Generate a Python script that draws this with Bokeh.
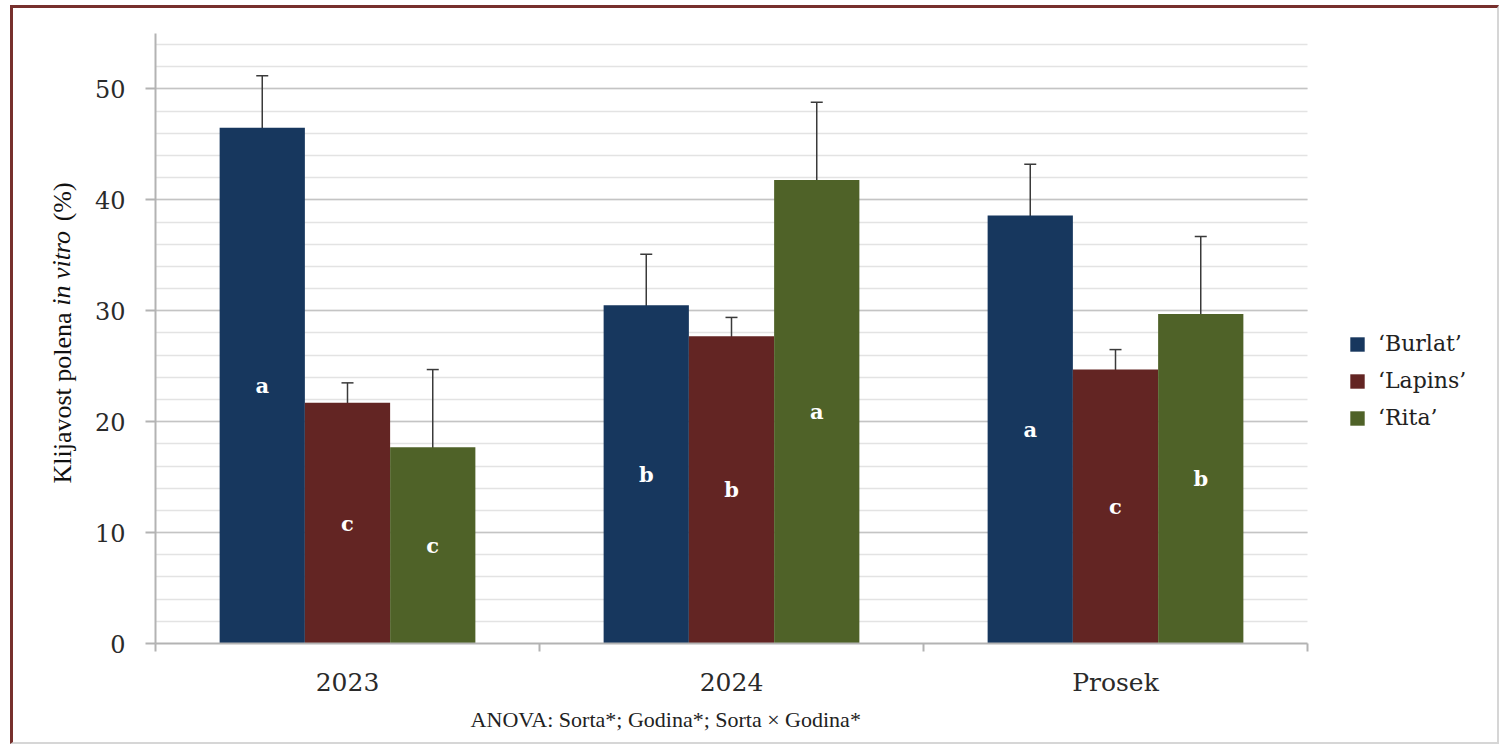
import numpy as np
from math import pi

from bokeh.plotting import figure
from bokeh.models import (ColumnDataSource, FixedTicker, SingleIntervalTicker, Range1d,
                          Whisker, TeeHead, Legend, LegendItem, Label)
from bokeh.core.properties import value
from bokeh.embed import file_html
from bokeh.resources import INLINE

# ---- data -------------------------------------------------------------
categories = ["2023", "2024", "Prosek"]
cultivars = ["‘Burlat’", "‘Lapins’", "‘Rita’"]

burlat = [46.5, 30.5, 38.6]
burlat_sd = [4.7, 4.6, 4.6]
lapins = [21.7, 27.7, 24.7]
lapins_sd = [1.8, 1.7, 1.8]
rita = [17.7, 41.8, 29.7]
rita_sd = [7.0, 7.0, 7.0]

burlat_letters = ["a", "b", "a"]
lapins_letters = ["c", "b", "c"]
rita_letters = ["c", "a", "b"]

y_ticks = [0, 10, 20, 30, 40, 50]
colors = ["#17375e", "#632523", "#4f6228"]
note = "ANOVA: Sorta*;  Godina*; Sorta × Godina*"

# ---- figure -----------------------------------------------------------
# The frame runs on to the right edge so the legend can sit inside it;
# the axis line and grid lines stop at the last category.
W, H = 1489, 739
left_px, cat_px = 142, 384
x_end = (W - left_px) / cat_px
p = figure(width=W, height=H, x_range=Range1d(0, x_end), y_range=Range1d(0, 55),
           output_backend="svg", toolbar_location=None,
           min_border_left=left_px, min_border_right=0, min_border_top=25, min_border_bottom=104)
p.outline_line_color = None
p.background_fill_color = "white"
p.border_fill_color = "white"
p.styles = {"margin-left": "10px", "margin-top": "5px",
            "border-top": "3px solid #77302d", "border-left": "3px solid #77302d",
            "border-right": "2px solid #d6d6d6", "border-bottom": "2px solid #d6d6d6"}

series = [(burlat, burlat_sd, burlat_letters),
          (lapins, lapins_sd, lapins_letters),
          (rita, rita_sd, rita_letters)]
offsets = [-0.222, 0.0, 0.222]
bar_w = 0.222
centers = np.arange(len(categories)) + 0.5
n_cat = len(categories)

items = []
for k, (vals, sd, letters) in enumerate(series):
    vals = np.array(vals)
    sd = np.array(sd)
    src = ColumnDataSource(dict(
        x=centers + offsets[k], top=vals, upper=vals + sd, lower=vals - sd,
        mid=vals / 2, letter=letters))
    r = p.vbar(x="x", top="top", width=bar_w, source=src,
               fill_color=colors[k], line_color=None)
    items.append(LegendItem(label=cultivars[k], renderers=[r]))
    p.add_layout(Whisker(source=src, base="x", upper="upper", lower="lower",
                         line_color="#3a3a3a", line_width=1.5,
                         upper_head=TeeHead(size=12, line_color="#3a3a3a", line_width=1.5),
                         lower_head=TeeHead(size=12, line_color="#3a3a3a", line_width=1.5)))
    p.text(x="x", y="mid", text="letter", source=src, text_color="white",
           text_font=value("DejaVu Serif"), text_font_style="bold",
           text_font_size="21px", text_align="center", text_baseline="middle")

# ---- axes & grid ------------------------------------------------------
axis_grey = "#b3b3b3"
p.yaxis.ticker = SingleIntervalTicker(interval=10, num_minor_ticks=5)
p.yaxis.minor_tick_line_color = None
p.yaxis.major_tick_in = 0
p.yaxis.major_tick_out = 10
p.yaxis.major_tick_line_color = axis_grey
p.yaxis.major_tick_line_width = 2
p.yaxis.axis_line_color = axis_grey
p.yaxis.axis_line_width = 2
p.yaxis.major_label_text_font = "DejaVu Serif"
p.yaxis.major_label_text_font_size = "24px"
p.yaxis.major_label_text_color = "#2a2a2a"
p.yaxis.major_label_standoff = 20

p.xaxis.ticker = FixedTicker(ticks=list(centers), minor_ticks=list(range(n_cat + 1)))
p.xaxis.major_label_overrides = {float(c): name for c, name in zip(centers, categories)}
p.xaxis.bounds = (0, n_cat)
p.xaxis.major_tick_line_color = None
p.xaxis.minor_tick_in = 0
p.xaxis.minor_tick_out = 8
p.xaxis.minor_tick_line_color = axis_grey
p.xaxis.minor_tick_line_width = 2
p.xaxis.axis_line_color = axis_grey
p.xaxis.axis_line_width = 2
p.xaxis.major_label_text_font = "DejaVu Serif"
p.xaxis.major_label_text_font_size = "25px"
p.xaxis.major_label_text_color = "#2a2a2a"
p.xaxis.major_label_standoff = 16

p.xgrid.visible = False
p.ygrid.cross_bounds = (0, n_cat)
p.ygrid.grid_line_color = "#c4c4c4"
p.ygrid.grid_line_width = 1.5
p.ygrid.minor_grid_line_color = "#e3e3e3"
p.ygrid.minor_grid_line_width = 1.5

# ---- legend (right of the bars) -----------------------------------------
legend = Legend(items=items, location=(1193, 213), glyph_width=18, glyph_height=18,
                label_text_font="DejaVu Serif", label_text_font_size="22px",
                label_text_color="#222222", label_standoff=12, spacing=12,
                padding=0, margin=0, border_line_color=None, background_fill_alpha=0)
p.add_layout(legend)

# ---- y-axis title (with italic "in vitro") -----------------------------
title_font = "Liberation Serif"
title_size = 26
nbsp = "\u00a0"
upright = "Klijavost polena" + nbsp * 14 + "(%)"
p.add_layout(Label(x=0, y=160, x_units="screen", y_units="screen",
                   text=upright, angle=pi / 2, text_font=title_font,
                   text_font_size=f"{title_size}px", text_color="#111111",
                   text_align="left", text_baseline="alphabetic"), "left")
p.add_layout(Label(x=28, y=160 + 6.833 * title_size, x_units="screen", y_units="screen",
                   text="in vitro", angle=pi / 2, text_font=title_font,
                   text_font_style="italic",
                   text_font_size=f"{title_size}px", text_color="#111111",
                   text_align="left", text_baseline="alphabetic"), "left")

# ---- ANOVA note under the chart ----------------------------------------
p.add_layout(Label(x=513, y=5, x_units="screen", y_units="screen", text=note,
                   text_font="Liberation Serif", text_font_size="22px", text_color="#222222",
                   text_align="center", text_baseline="middle"), "below")

open("out.html", "w").write(file_html(p, INLINE))
